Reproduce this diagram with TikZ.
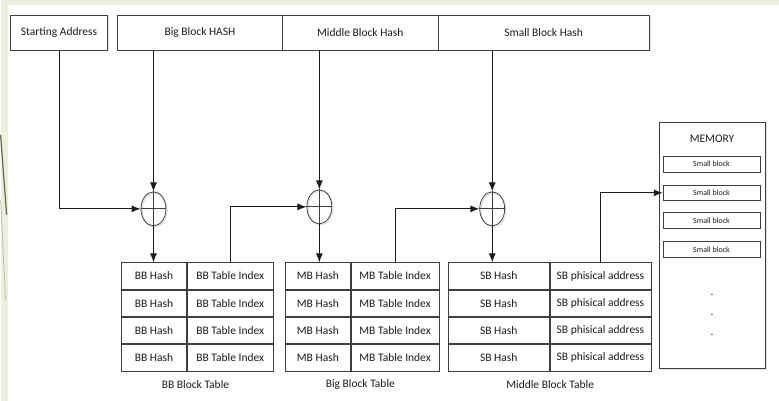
\documentclass[tikz,border=0pt]{standalone}
\usepackage{fontspec}
\setmainfont{Carlito}
\usetikzlibrary{arrows.meta,positioning,shapes.geometric,shadows}
\definecolor{ink}{HTML}{1C1C1C}
\definecolor{edge}{HTML}{3E3E3E}
\definecolor{paper}{HTML}{EEEEDC}
\definecolor{olive}{HTML}{5E6B45}

\begin{document}
\begin{tikzpicture}[x=1pt,y=-1pt,font=\fontsize{11.5}{13}\selectfont,color=ink,
head/.style={draw=edge,line width=0.8pt,fill=white,minimum height=35pt,inner sep=0pt,
drop shadow={shadow xshift=1.5pt,shadow yshift=-1.5pt,fill=black!22}},
cell/.style={draw=edge,line width=0.8pt,fill=white,minimum height=26.5pt,inner sep=0pt},
blk/.style={draw=edge,line width=0.7pt,fill=white,minimum width=97pt,minimum height=16pt,
inner sep=0pt,font=\fontsize{8}{9}\selectfont},
xor/.style={draw=edge,line width=0.8pt,ellipse,minimum width=25pt,minimum height=34pt,
inner sep=0pt,drop shadow={shadow xshift=1.2pt,shadow yshift=-1.2pt,fill=none,draw=black!30}},
arr/.style={-{Latex[length=9pt,width=7pt]},line width=1pt,color=ink}]
% slide background
\fill[paper] (0,0) rectangle (779,401);
\fill[white] (7,5) rectangle (779,401);
\draw[olive,line width=1.2pt] (0,135) -- (6,215);
\draw[olive!50,line width=0.6pt] (0,200) -- (5,300);
\useasboundingbox (0,0) rectangle (779,401);
% hash fields
\node[head,minimum width=97pt] (addr) at (58.5,32.5) {Starting Address};
\node[head,minimum width=165pt] (bbhash) at (199.5,32.5) {Big Block HASH};
\node[head,minimum width=156pt] (mbhash) at (360,32.5) {Middle Block Hash};
\node[head,minimum width=211pt] (sbhash) at (543.5,32.5) {Small Block Hash};
% combiners
\node[xor] (xa) at (153,209) {};
\node[xor] (xb) at (319,207) {};
\node[xor] (xc) at (492,209) {};
\draw[edge,line width=0.8pt] (xa.north)--(xa.south) (xa.west)--(xa.east);
\draw[edge,line width=0.8pt] (xb.north)--(xb.south) (xb.west)--(xb.east);
\draw[edge,line width=0.8pt] (xc.north)--(xc.south) (xc.west)--(xc.east);
% BB block table
\fill[black!18] (123,265) rectangle (274,371);
\node[cell,minimum width=65pt] (bb1) at (153.5,276.25) {BB Hash};
\node[cell,minimum width=86pt,right=0pt of bb1] (bbi1) {BB Table Index};
\node[cell,minimum width=65pt,below=0pt of bb1] (bb2) {BB Hash};
\node[cell,minimum width=86pt,right=0pt of bb2] (bbi2) {BB Table Index};
\node[cell,minimum width=65pt,below=0pt of bb2] (bb3) {BB Hash};
\node[cell,minimum width=86pt,right=0pt of bb3] (bbi3) {BB Table Index};
\node[cell,minimum width=65pt,below=0pt of bb3] (bb4) {BB Hash};
\node[cell,minimum width=86pt,right=0pt of bb4] (bbi4) {BB Table Index};
\node (bbcap) at (195,385) {BB Block Table};
% big block table
\fill[black!18] (287,265) rectangle (440,371);
\node[cell,minimum width=65pt] (mb1) at (317.5,276.25) {MB Hash};
\node[cell,minimum width=88pt,right=0pt of mb1] (mbi1) {MB Table Index};
\node[cell,minimum width=65pt,below=0pt of mb1] (mb2) {MB Hash};
\node[cell,minimum width=88pt,right=0pt of mb2] (mbi2) {MB Table Index};
\node[cell,minimum width=65pt,below=0pt of mb2] (mb3) {MB Hash};
\node[cell,minimum width=88pt,right=0pt of mb3] (mbi3) {MB Table Index};
\node[cell,minimum width=65pt,below=0pt of mb3] (mb4) {MB Hash};
\node[cell,minimum width=88pt,right=0pt of mb4] (mbi4) {MB Table Index};
\node (mbcap) at (360,385) {Big Block Table};
% middle block table
\fill[black!18] (450,265) rectangle (652,371);
\node[cell,minimum width=101pt] (sb1) at (498.5,276.25) {SB Hash};
\node[cell,minimum width=101pt,right=0pt of sb1] (sbp1) {SB phisical address};
\node[cell,minimum width=101pt,below=0pt of sb1] (sb2) {SB Hash};
\node[cell,minimum width=101pt,right=0pt of sb2] (sbp2) {SB phisical address};
\node[cell,minimum width=101pt,below=0pt of sb2] (sb3) {SB Hash};
\node[cell,minimum width=101pt,right=0pt of sb3] (sbp3) {SB phisical address};
\node[cell,minimum width=101pt,below=0pt of sb3] (sb4) {SB Hash};
\node[cell,minimum width=101pt,right=0pt of sb4] (sbp4) {SB phisical address};
\node (sbcap) at (550,385) {Middle Block Table};
% memory
\node[draw=edge,line width=0.8pt,fill=white,minimum width=106pt,minimum height=247pt,inner sep=0pt,
drop shadow={shadow xshift=1.5pt,shadow yshift=-1.5pt,fill=black!22}] (mem) at (712,245.5) {};
\node (memlabel) at (712,139) {MEMORY};
\node[blk] (sm1) at (711.5,164) {Small block};
\node[blk] (sm2) at (711.5,193) {Small block};
\node[blk] (sm3) at (711.5,221) {Small block};
\node[blk] (sm4) at (711.5,249.5) {Small block};
\node[inner sep=0pt] (dot1) at (712,295) {.};
\node[inner sep=0pt] (dot2) at (712,315) {.};
\node[inner sep=0pt] (dot3) at (712,335) {.};
% connections
\draw[arr] (addr.south)|-(xa.west);
\draw[arr] (xa|-bbhash.south)--(xa.north);
\draw[arr] (xa.south)--(xa|-bb1.north);
\draw[arr] (bbi1.north)|-(xb.west);
\draw[arr] (xb|-mbhash.south)--(xb.north);
\draw[arr] (xb.south)--(xb|-mb1.north);
\draw[arr] (mbi1.north)|-(xc.west);
\draw[arr] (xc|-sbhash.south)--(xc.north);
\draw[arr] (xc.south)--(xc|-sb1.north);
\draw[arr] (sbp1.north)|-(sm2.west);
\end{tikzpicture}
\end{document}
